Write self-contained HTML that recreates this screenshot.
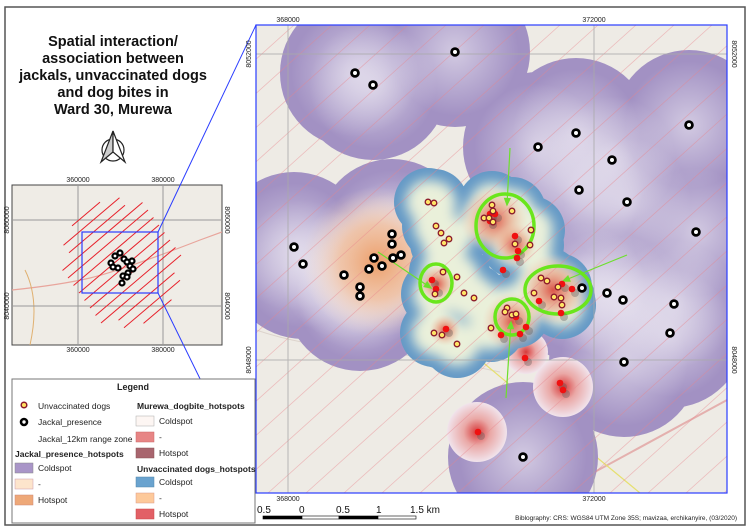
<!DOCTYPE html>
<html><head><meta charset="utf-8"><style>
html,body{margin:0;padding:0;background:#fff;}
body{width:750px;height:530px;overflow:hidden;position:relative;font-family:"Liberation Sans",sans-serif;}
svg{position:absolute;left:0;top:0;}
</style></head><body>
<svg id="svg" width="750" height="530" viewBox="0 0 750 530" xmlns="http://www.w3.org/2000/svg">
<defs>
  <clipPath id="mainClip"><rect x="256" y="25" width="471" height="468"/></clipPath>
  <clipPath id="insetClip"><rect x="12" y="185" width="210" height="160"/></clipPath>
  <radialGradient id="gPurple"><stop offset="0" stop-color="#ece8f2" stop-opacity="0.65"/><stop offset="1" stop-color="#ece8f2" stop-opacity="0"/></radialGradient>
  <radialGradient id="gOrange"><stop offset="0" stop-color="#ec9a62" stop-opacity="0.95"/><stop offset="0.5" stop-color="#f2b88e" stop-opacity="0.7"/><stop offset="1" stop-color="#f6dcc8" stop-opacity="0"/></radialGradient>
  <radialGradient id="gRed"><stop offset="0" stop-color="#d8382e" stop-opacity="0.85"/><stop offset="0.5" stop-color="#e98060" stop-opacity="0.45"/><stop offset="1" stop-color="#f4c0a8" stop-opacity="0"/></radialGradient>
  <radialGradient id="gBite"><stop offset="0" stop-color="#d73a3a"/><stop offset="0.45" stop-color="#eaa8a6"/><stop offset="1" stop-color="#f1e4ec"/></radialGradient>
  <filter id="blur6" x="-20%" y="-20%" width="140%" height="140%"><feGaussianBlur stdDeviation="6"/></filter>
</defs>
<rect x="5" y="7" width="740" height="518" fill="#fff" stroke="#555" stroke-width="1.5"/>

<g font-family="Liberation Sans, sans-serif" font-weight="bold" font-size="14.5" text-anchor="middle" fill="#111">
  <text x="113" y="46">Spatial interaction/</text>
  <text x="113" y="63">association between</text>
  <text x="113" y="80">jackals, unvaccinated dogs</text>
  <text x="113" y="97">and dog bites in</text>
  <text x="113" y="114">Ward 30, Murewa</text>
</g>
<g>
  <circle cx="113" cy="150" r="11" fill="#fff" stroke="#222" stroke-width="1.2"/>
  <path d="M113,131 L101,162 L113,152 Z" fill="#ccc" stroke="#222" stroke-width="1.2"/>
  <path d="M113,131 L125,162 L113,152 Z" fill="#fff" stroke="#222" stroke-width="1.2"/>
</g>

<!-- inset -->
<g>
  <rect x="12" y="185" width="210" height="160" fill="#efece6" stroke="#444"/>
  <g clip-path="url(#insetClip)">
    <path d="M12,290 Q60,285 90,278 T200,240 L222,232" stroke="#e8a59c" stroke-width="1.2" fill="none"/>
    <path d="M30,345 Q40,300 25,270" stroke="#e0b070" stroke-width="1" fill="none"/>
    <line x1="78" y1="185" x2="78" y2="345" stroke="#999"/>
    <line x1="163" y1="185" x2="163" y2="345" stroke="#999"/>
    <line x1="12" y1="220" x2="222" y2="220" stroke="#999"/>
    <line x1="12" y1="306" x2="222" y2="306" stroke="#999"/>
    <g id="insetHatch" stroke="#e8202a" stroke-width="1"></g>
    <rect x="82" y="232" width="76" height="61" fill="none" stroke="#2a3cff" stroke-width="1.2"/>
    <g id="insetDots"></g>
  </g>
  <g font-size="7" fill="#222" font-family="Liberation Sans, sans-serif" text-anchor="middle">
    <text x="78" y="182">360000</text><text x="163" y="182">380000</text>
    <text x="78" y="352">360000</text><text x="163" y="352">380000</text>
    <text transform="translate(9,220) rotate(-90)">8060000</text>
    <text transform="translate(9,306) rotate(-90)">8040000</text>
    <text transform="translate(225,220) rotate(90)">8060000</text>
    <text transform="translate(225,306) rotate(90)">8040000</text>
  </g>
</g>
<line x1="158" y1="232" x2="256" y2="25" stroke="#2a3cff" stroke-width="1"/>
<line x1="158" y1="293" x2="256" y2="493" stroke="#2a3cff" stroke-width="1"/>

<!-- main map -->
<g clip-path="url(#mainClip)">
  <rect x="256" y="25" width="471" height="468" fill="#eeebe5"/>
  <path d="M256,330 Q300,345 360,350 T500,372" stroke="#dcd3cc" fill="none"/>
  <path d="M480,25 Q485,150 470,260" stroke="#bbb" fill="none"/>
  <path d="M580,480 L727,400" stroke="#d88" stroke-width="2" fill="none" opacity="0.6"/>
  <path d="M480,360 L600,460 L640,493" stroke="#e6e070" stroke-width="1.2" fill="none"/>
  <g id="purpleBase" fill="#a291c3"></g>
  <g id="purpleLight"></g>
  <circle cx="377" cy="262" r="75" fill="url(#gOrange)"/>
  <g id="bites"></g>
  <g id="blueBase" fill="#6499c6"></g>
  <g id="blueLight" fill="#eaf0da" filter="url(#blur6)"></g>
  <g id="redHot"></g>
  <g id="hatchLines" stroke="#e8848c" stroke-width="0.8" opacity="0.45"></g>
  <g stroke="#aaa" stroke-width="1" opacity="0.8">
    <line x1="288" y1="25" x2="288" y2="493"/><line x1="594" y1="25" x2="594" y2="493"/>
    <line x1="256" y1="54" x2="727" y2="54"/><line x1="256" y1="360" x2="727" y2="360"/>
  </g>
  <g id="arrows" stroke="#6de02c" stroke-width="1.2" fill="#6de02c"></g>
  <g id="ellipses" fill="none" stroke="#6ae61c" stroke-width="3.5"></g>
  <g id="redDots" fill="#f01010"></g>
  <g id="dogDots"></g>
  <g id="jackalDots"></g>
</g>
<rect x="256" y="25" width="471" height="468" fill="none" stroke="#2a3cff" stroke-width="1.2"/>
<g font-size="7" fill="#222" font-family="Liberation Sans, sans-serif" text-anchor="middle">
  <text x="288" y="22">368000</text><text x="594" y="22">372000</text>
  <text x="288" y="501">368000</text><text x="594" y="501">372000</text>
  <text transform="translate(251,54) rotate(-90)">8052000</text>
  <text transform="translate(251,360) rotate(-90)">8048000</text>
  <text transform="translate(732,54) rotate(90)">8052000</text>
  <text transform="translate(732,360) rotate(90)">8048000</text>
</g>

<!-- scale bar -->
<g font-family="Liberation Sans, sans-serif" font-size="10" fill="#111">
  <text x="257" y="513">0.5</text><text x="299" y="513">0</text><text x="336" y="513">0.5</text><text x="376" y="513">1</text><text x="410" y="513">1.5 km</text>
  <rect x="263" y="516" width="39" height="3" fill="#000" stroke="#000" stroke-width="0.6"/>
  <rect x="302" y="516" width="37" height="3" fill="#fff" stroke="#000" stroke-width="0.6"/>
  <rect x="339" y="516" width="39" height="3" fill="#000" stroke="#000" stroke-width="0.6"/>
  <rect x="378" y="516" width="38" height="3" fill="#fff" stroke="#000" stroke-width="0.6"/>
</g>
<text x="737" y="520" font-size="6.5" text-anchor="end" fill="#222" font-family="Liberation Sans, sans-serif">Biblography: CRS: WGS84 UTM Zone 35S; mavizaa, erchikanyire, (03/2020)</text>

<!-- legend -->
<g font-family="Liberation Sans, sans-serif" font-size="8.5" fill="#222">
  <rect x="12" y="379" width="243" height="144" fill="#fff" stroke="#777"/>
  <text x="133" y="390" font-weight="bold" font-size="9" text-anchor="middle">Legend</text>
  <g><circle cx="24" cy="405" r="2.8" fill="#ffe060" stroke="#8b1a2a" stroke-width="1.5"/><text x="38" y="409">Unvaccinated dogs</text></g>
  <g><circle cx="24" cy="422" r="3" fill="#fff" stroke="#000" stroke-width="2.6"/><text x="38" y="425">Jackal_presence</text></g>
  <text x="38" y="442">Jackal_12km range zone</text>
  <text x="15" y="457" font-weight="bold">Jackal_presence_hotspots</text>
  <rect x="15" y="463" width="18" height="10" fill="#a995c8" stroke="#888" stroke-width="0.5"/><text x="38" y="471">Coldspot</text>
  <rect x="15" y="479" width="18" height="10" fill="#fde5cc" stroke="#c9a" stroke-width="0.5"/><text x="38" y="487">-</text>
  <rect x="15" y="495" width="18" height="10" fill="#eea878" stroke="#c87" stroke-width="0.5"/><text x="38" y="503">Hotspot</text>
  <text x="137" y="409" font-weight="bold">Murewa_dogbite_hotspots</text>
  <rect x="136" y="416" width="18" height="10" fill="#fdf6f3" stroke="#aaa" stroke-width="0.5"/><text x="159" y="424">Coldspot</text>
  <rect x="136" y="432" width="18" height="10" fill="#e78585" stroke="#c66" stroke-width="0.5"/><text x="159" y="440">-</text>
  <rect x="136" y="448" width="18" height="10" fill="#a8656e" stroke="#855" stroke-width="0.5"/><text x="159" y="456">Hotspot</text>
  <text x="137" y="472" font-weight="bold">Unvaccinated dogs_hotspots</text>
  <rect x="136" y="477" width="18" height="10" fill="#6aa3cf" stroke="#58a" stroke-width="0.5"/><text x="159" y="485">Coldspot</text>
  <rect x="136" y="493" width="18" height="10" fill="#fdc99a" stroke="#d98" stroke-width="0.5"/><text x="159" y="501">-</text>
  <rect x="136" y="509" width="18" height="10" fill="#e26066" stroke="#c44" stroke-width="0.5"/><text x="159" y="517">Hotspot</text>
</g>
</svg>
<script>
const NS = "http://www.w3.org/2000/svg";
const jackalX = [355,373,455,294,303,344,360,360,369,374,382,392,392,393,401,538,576,689,612,579,627,696,582,607,623,674,670,624,523];
const jackalY = [73,85,52,247,264,275,287,296,269,258,266,234,244,258,255,147,133,125,160,190,202,232,288,293,300,304,333,362,457];
const dogX = [428,434,436,441,444,449,492,493,484,489,493,512,531,515,530,443,457,435,464,474,507,505,512,516,491,434,442,457,541,547,558,534,554,561,562];
const dogY = [202,203,226,233,243,239,205,211,218,218,222,211,230,244,245,272,277,294,293,298,308,312,315,314,328,333,335,344,278,281,287,293,297,298,305];
const biteX = [490,495,490,515,518,517,503,432,436,562,572,539,561,516,526,501,520,446,525,560,563,478];
const biteY = [214,214,221,236,251,258,270,280,289,284,289,301,313,317,327,335,334,329,358,383,390,432];
// hotspot surfaces
const jackalRange = 75;
const dogRange = 34;
const hotX = [494,512,553,437,515,445];
const hotY = [220,322,290,284,245,330];
const hotR = [34,30,36,20,22,16];
const biteZoneX = [563,477,526];
const biteZoneY = [387,432,352];
const biteZoneR = [30,30,22];
const ringX = [505,436,558,512];
const ringY = [226,283,290,317];
const ringRX = [29,16,33,17];
const ringRY = [32,19,24,18];
const arrowFromX = [510,378,627,506];
const arrowFromY = [148,252,255,398];
const arrowToX = [507,431,563,511];
const arrowToY = [205,288,281,322];

function mk(tag, attrs, parent){ const e=document.createElementNS(NS,tag); for(const k in attrs) e.setAttribute(k,attrs[k]); parent.appendChild(e); return e; }
const g = id => document.getElementById(id);

jackalX.forEach((x,i)=>{
  const c=mk('circle',{cx:x,cy:jackalY[i],r:jackalRange},g('purpleBase'));
  
  
  mk('circle',{cx:x,cy:jackalY[i],r:jackalRange*0.85,fill:'url(#gPurple)'},g('purpleLight'));
});
biteZoneX.forEach((x,i)=>{
  const c=mk('circle',{cx:x,cy:biteZoneY[i],r:biteZoneR[i],fill:'url(#gBite)'},g('bites'));
  
  
});
dogX.forEach((x,i)=>{
  const c=mk('circle',{cx:x,cy:dogY[i],r:dogRange},g('blueBase'));
  
  
  mk('circle',{cx:x,cy:dogY[i],r:dogRange-12},g('blueLight'));
});
hotX.forEach((x,i)=>{
  const c=mk('circle',{cx:x,cy:hotY[i],r:hotR[i],fill:'url(#gRed)'},g('redHot'));
  
  
});
// main-map hatch: lines rising to the right, clipped to frame
const L=256, R=727, T=25, B=493, S=0.9;
for(let c=L-520; c<R; c+=38){
  let x1=c, y1=B;
  if(x1<L){ y1=B-(L-c)*S; x1=L; }
  let x2=c+(B-T)/S, y2=T;
  if(x2>R){ y2=B-(R-c)*S; x2=R; }
  if(y1<=T || x1>=R) continue;
  mk('line',{x1:x1,y1:y1,x2:x2,y2:y2},g('hatchLines'));
}
arrowFromX.forEach((x,i)=>{
  const x2=arrowToX[i], y2=arrowToY[i], y1=arrowFromY[i];
  const l=mk('line',{x1:x,y1:y1,x2:x2,y2:y2},g('arrows'));
  
  
  const a=Math.atan2(y2-y1,x2-x), s=7;
  const p=[[x2,y2],[x2-s*Math.cos(a-0.4),y2-s*Math.sin(a-0.4)],[x2-s*Math.cos(a+0.4),y2-s*Math.sin(a+0.4)]];
  mk('polygon',{points:p.map(q=>q.join(',')).join(' ')},g('arrows'));
});
ringX.forEach((x,i)=>{
  const e=mk('ellipse',{cx:x,cy:ringY[i],rx:ringRX[i],ry:ringRY[i]},g('ellipses'));
  
  
});
biteX.forEach((x,i)=>{
  mk('circle',{cx:x+3,cy:biteY[i]+4,r:4,fill:'#555',opacity:0.35},g('redDots'));
  const d=mk('circle',{cx:x,cy:biteY[i],r:3.3},g('redDots'));
  
  
});
dogX.forEach((x,i)=>{
  const d=mk('circle',{cx:x,cy:dogY[i],r:2.8,fill:'#ffe466',stroke:'#8b1a2a','stroke-width':1.3},g('dogDots'));
  
  
});
jackalX.forEach((x,i)=>{
  const d=mk('circle',{cx:x,cy:jackalY[i],r:3.4,fill:'#fff',stroke:'#000','stroke-width':2.8},g('jackalDots'));
  
  
});
// inset hatch (12 km range zone) & dots
for(let k=0;k<14;k++){
  const cx=86+k*5.5, cy=214+k*7.5;
  const half = (k<1||k>12) ? 14 : (k<3||k>10 ? 28 : 40);
  mk('line',{x1:cx-half,y1:cy+half*0.85,x2:cx+half,y2:cy-half*0.85},g('insetHatch'));
}
const insetX=[115,120,111,113,118,124,127,132,130,133,128,123,122,127];
const insetY=[256,253,263,267,268,259,262,261,266,269,273,276,283,277];
insetX.forEach((x,i)=>{
  const d=mk('circle',{cx:x,cy:insetY[i],r:2.5,fill:'#fff',stroke:'#000','stroke-width':2.2},g('insetDots'));
  
  
});
</script>
</body></html>
